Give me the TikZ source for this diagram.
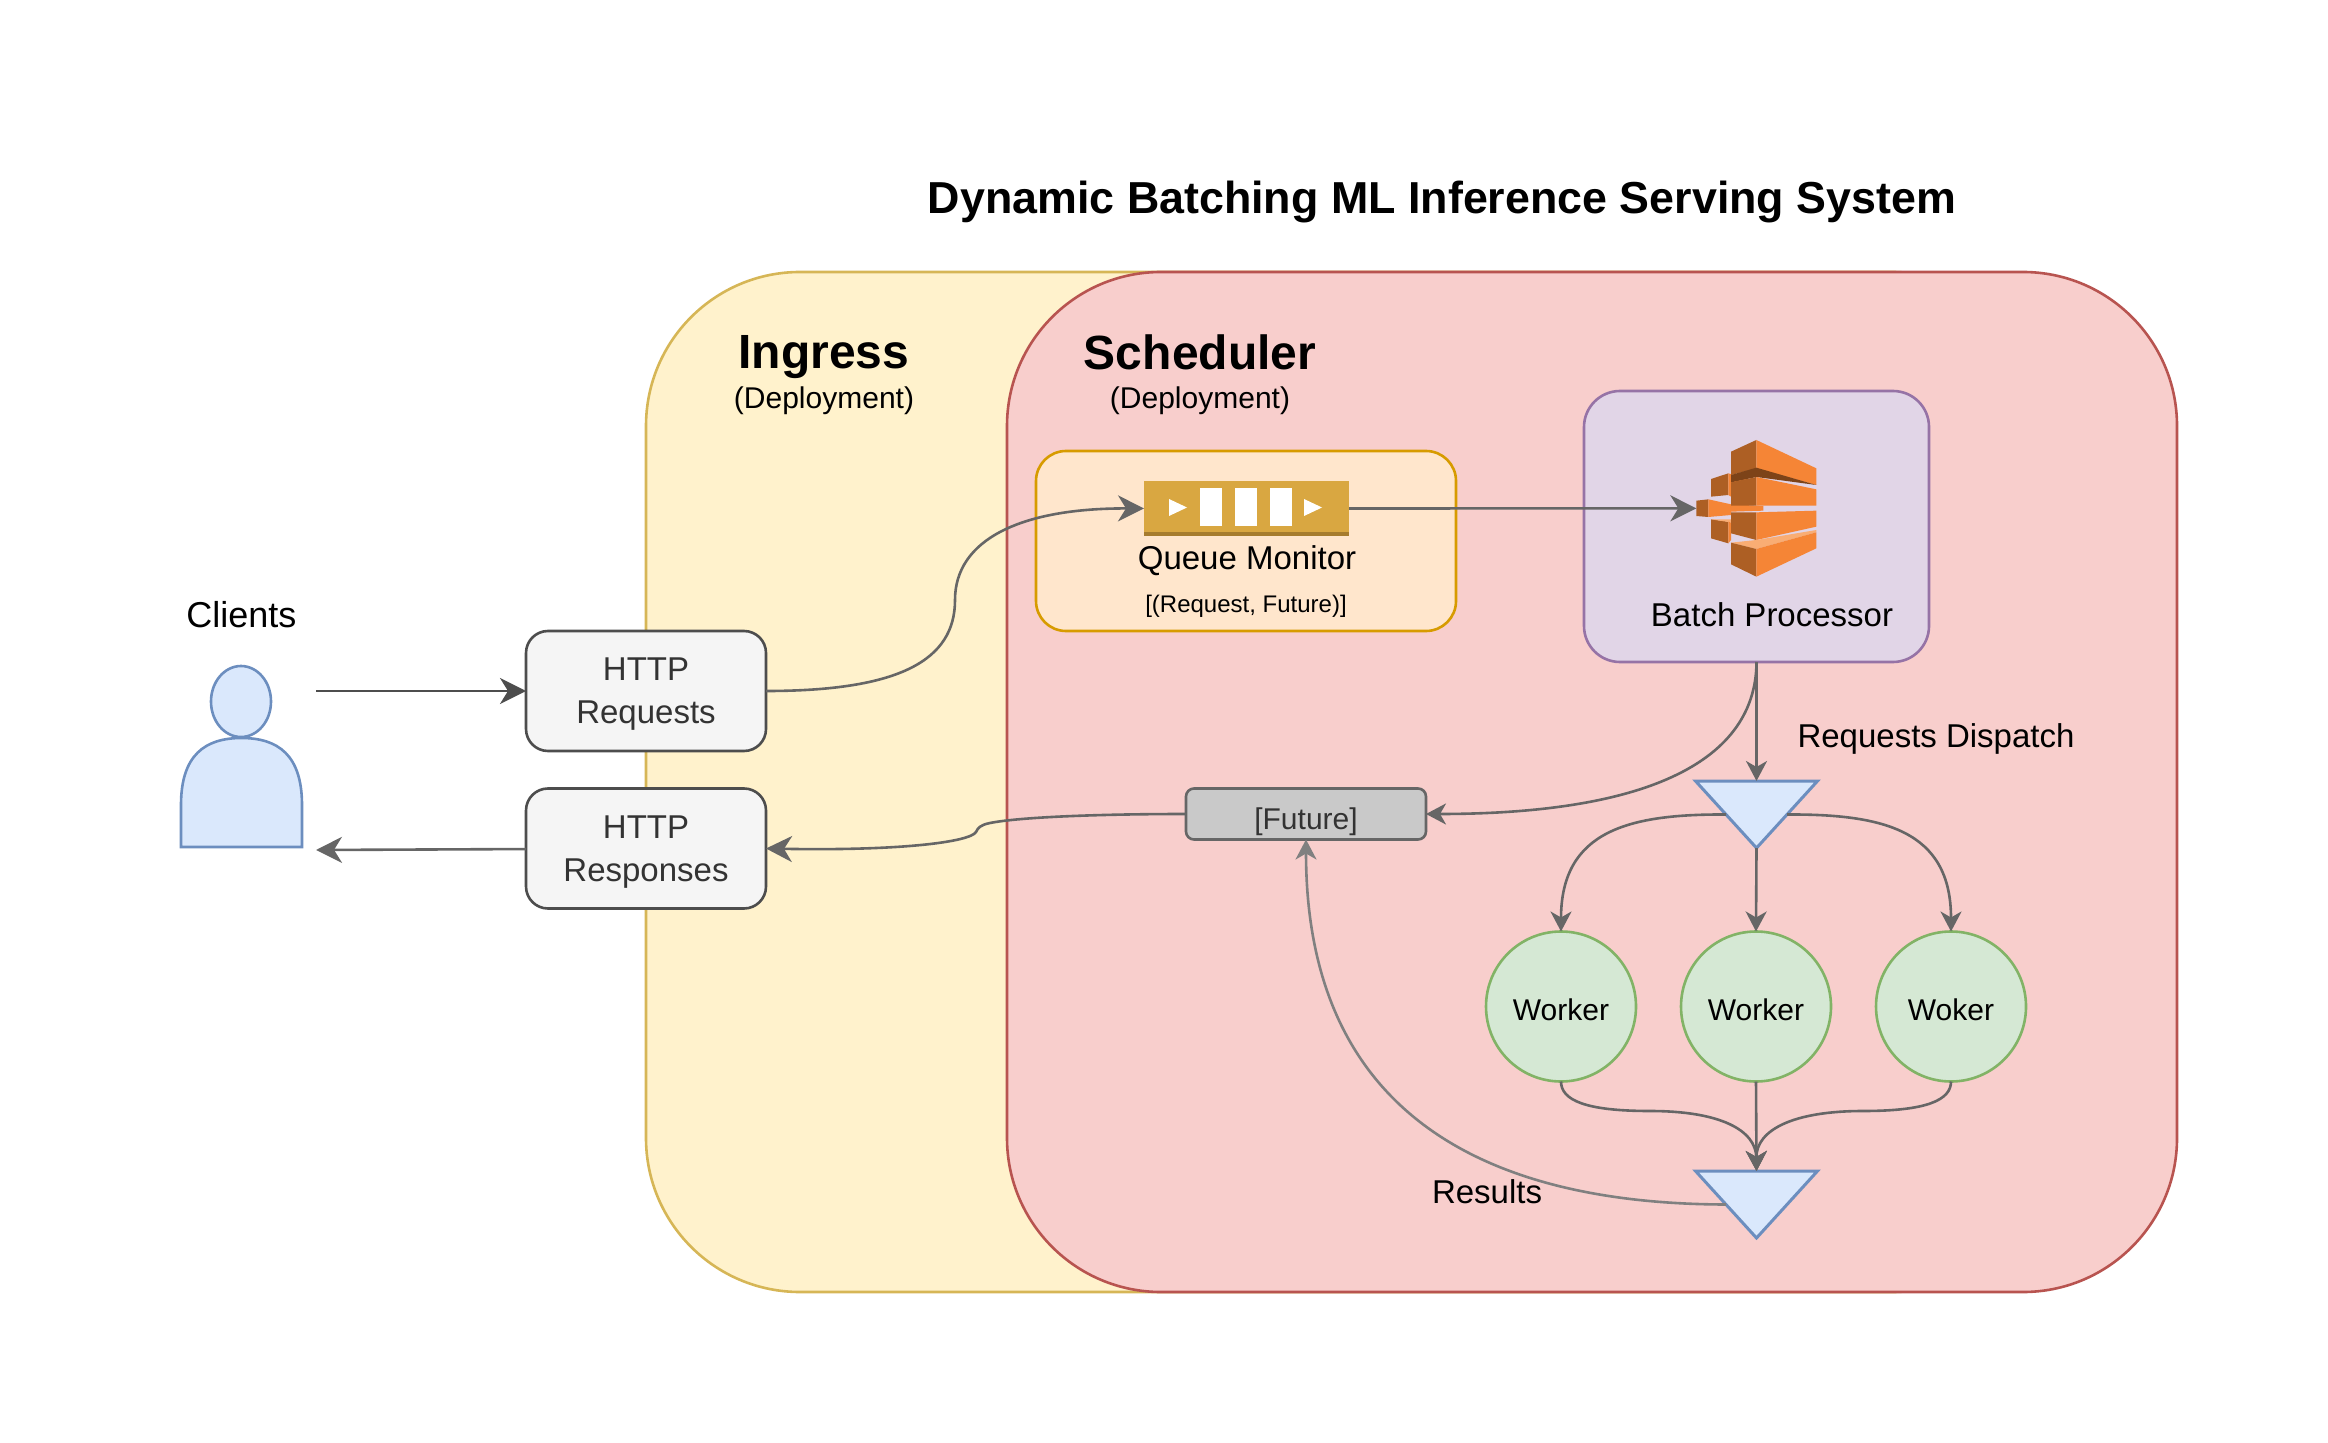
\documentclass[tikz,border=0pt]{standalone}
\usepackage{fontspec}
\usepackage{xcolor}
\usepackage{tikz}
\usetikzlibrary{shapes.geometric,arrows.meta,positioning}
\setmainfont{Liberation Sans}
\definecolor{ingressfill}{HTML}{FFF2CC}
\definecolor{ingressline}{HTML}{D6B656}
\definecolor{schedfill}{HTML}{F8CECC}
\definecolor{schedline}{HTML}{B85450}
\definecolor{queuefill}{HTML}{FFE6CC}
\definecolor{queueline}{HTML}{D79B00}
\definecolor{batchfill}{HTML}{E1D5E7}
\definecolor{batchline}{HTML}{9673A6}
\definecolor{bluefill}{HTML}{DAE8FC}
\definecolor{blueline}{HTML}{6C8EBF}
\definecolor{workerfill}{HTML}{D5E8D4}
\definecolor{workerline}{HTML}{82B366}
\definecolor{httpfill}{HTML}{F5F5F5}
\definecolor{httpline}{HTML}{4D4D4D}
\definecolor{futurefill}{HTML}{C9C9C9}
\definecolor{flowline}{HTML}{666666}
\definecolor{resultline}{HTML}{808080}
\definecolor{iconbase}{HTML}{D9A741}
\definecolor{iconedge}{HTML}{A67C2E}
\definecolor{kinesis}{HTML}{F58536}
\definecolor{kinesisdark}{HTML}{AD5F24}
\definecolor{kinesisdeep}{HTML}{7D4318}
\definecolor{kinesislight}{HTML}{F9AD74}

\begin{document}
\begin{tikzpicture}[x=0.5pt, y=-0.5pt]
    \tikzstyle{label} = [inner sep=0pt, font=\fontsize{16.5}{21.5}\selectfont, align=center, text depth=0pt]
    \tikzstyle{smalllabel} = [label, font=\fontsize{15}{18}\selectfont]
    \tikzstyle{heading} = [inner sep=0pt, font=\fontsize{24}{28}\selectfont\bfseries, text depth=0pt]
    \tikzstyle{zone} = [rectangle, rounded corners=77pt, inner sep=0pt, outer sep=0pt, line width=1.3pt]
    \tikzstyle{panel} = [rectangle, inner sep=0pt, outer sep=0pt, line width=1.3pt]
    \tikzstyle{http} = [panel, rounded corners=11pt, minimum width=120pt, minimum height=60pt, draw=httpline, fill=httpfill, text=black!80, label]
    \tikzstyle{worker} = [circle, minimum size=75pt, inner sep=0pt, outer sep=0pt, line width=1.3pt, draw=workerline, fill=workerfill, smalllabel, text height=14pt]
    \tikzstyle{merge} = [isosceles triangle, isosceles triangle stretches, shape border rotate=-90, minimum width=61pt, minimum height=33.5pt, inner sep=0pt, outer sep=0pt, line width=1.5pt, draw=blueline, fill=bluefill]
    \tikzstyle{arrow} = [line width=1.3pt, flowline, -{Stealth[length=13pt, width=13pt, inset=4pt]}]
    \tikzstyle{thinarrow} = [line width=1.3pt, flowline, -{Stealth[length=10pt, width=10.5pt, inset=3pt]}]

    \useasboundingbox (0,0) rectangle (2328,1443);

    \node (title) [heading, font=\fontsize{22.4}{26}\selectfont\bfseries] at (1442,197) {Dynamic Batching ML Inference Serving System};

    \node (ingress) [zone, minimum width=700pt, minimum height=510pt, anchor=north west, draw=ingressline, fill=ingressfill] at (646,272) {};
    \node (scheduler) [zone, minimum width=585pt, minimum height=510pt, anchor=north west, draw=schedline, fill=schedfill] at (1007,272) {};

    \node (ingresstitle) [heading] at (824,352) {Ingress};
    \node (ingresskind) [smalllabel] at (824,398) {(Deployment)};
    \node (schedtitle) [heading] at (1200,352) {Scheduler};
    \node (schedkind) [smalllabel] at (1200,398) {(Deployment)};

    \node (queuebox) [panel, rounded corners=15pt, minimum width=210pt, minimum height=90pt, draw=queueline, fill=queuefill] at (1246,541) {};
    \node (queue) [panel, minimum width=102.5pt, minimum height=27.5pt, fill=iconbase] at (1246.5,508.5) {};
    \fill [iconedge] (queue.south west) rectangle ([yshift=2pt]queue.south east);
    \foreach \barx in {1200,1235,1270}
        \fill [white] (\barx,488) rectangle ++(22,38);
    \foreach \tipx in {1169,1304}
        \fill [white] (\tipx,499) -- (\tipx+18,507.5) -- (\tipx,516) -- cycle;
    \node (queuename) [label] at (1247,558) {Queue Monitor};
    \node (queueitems) [label, font=\fontsize{12}{14}\selectfont] at (1246,604) {[(Request, Future)]};

    \node (batch) [panel, rounded corners=18pt, minimum width=172.5pt, minimum height=135.5pt, draw=batchline, fill=batchfill] at (1756.5,526.5) {};
    \begin{scope}[shift={(1560,380)}, scale=1/3]
        \fill [kinesisdark] (453,297) -- (505,280) -- (505,345) -- (453,350) -- cycle;
        \fill [kinesis] (505,280) -- (565,297) -- (513,310) -- (513,350) -- (505,345) -- cycle;
        \fill [kinesisdark] (453,418) -- (505,425) -- (505,490) -- (453,475) -- cycle;
        \fill [kinesislight] (453,418) -- (513,418) -- (513,428) -- (505,426) -- cycle;
        \fill [kinesis] (505,425) -- (513,428) -- (513,480) -- (505,490) -- cycle;
        \fill [kinesisdark] (409,362) -- (445,358) -- (445,411) -- (409,408) -- cycle;
        \fill [kinesis] (445,358) -- (513,373) -- (610,378) -- (610,392) -- (513,395) -- (513,405) -- (445,411) -- cycle;
        \fill [kinesisdark] (513,215) -- (589,180) -- (589,265) -- (513,285) -- cycle;
        \fill [kinesis] (589,180) -- (769,265) -- (769,315) -- (589,265) -- cycle;
        \fill [kinesisdeep] (513,285) -- (589,263) -- (769,315) -- (589,291) -- (513,307) -- cycle;
        \fill [kinesisdark] (513,307) -- (589,291) -- (589,377) -- (513,377) -- cycle;
        \fill [kinesis] (589,291) -- (769,328) -- (769,377) -- (589,377) -- cycle;
        \fill [kinesisdark] (513,397) -- (589,397) -- (589,480) -- (513,460) -- cycle;
        \fill [kinesis] (589,397) -- (769,392) -- (769,440) -- (589,480) -- cycle;
        \fill [kinesislight] (513,488) -- (589,480) -- (769,450) -- (769,457) -- (589,507) -- cycle;
        \fill [kinesisdark] (513,488) -- (589,507) -- (589,590) -- (513,553) -- cycle;
        \fill [kinesis] (589,507) -- (769,457) -- (769,505) -- (589,590) -- cycle;
        \coordinate (kinesisport) at (409,385);
    \end{scope}
    \node (batchname) [label] at (1772,615) {Batch Processor};

    \node (clientsname) [label, font=\fontsize{18}{21}\selectfont] at (241.5,614) {Clients};
    \fill [bluefill, draw=blueline, line width=1.3pt] (181,847) -- (181,805) .. controls (181,755) and (205,738) .. (241.5,738) .. controls (278,738) and (302,755) .. (302,805) -- (302,847) -- cycle;
    \node (clientshead) [ellipse, minimum width=30pt, minimum height=35.5pt, inner sep=0pt, line width=1.3pt, draw=blueline, fill=bluefill] at (241,701.5) {};
    \coordinate (clientsout) at (316,691);
    \coordinate (clientsin) at (316,850);

    \node (requests) [http] at (646,691) {HTTP\\Requests};
    \node (responses) [http, below=18.75pt of requests] {HTTP\\Responses};
    \node (future) [panel, rounded corners=4pt, minimum width=120pt, minimum height=25.5pt, draw=flowline, fill=futurefill, text=black!80, label, font=\fontsize{15}{18}\selectfont, text height=15pt] at (1306,814) {[Future]};

    \node (dispatch) [merge, anchor=lower side] at (1756.5,781) {};
    \node (dispatchname) [label] at (1936,736) {Requests Dispatch};
    \node (workerb) [worker] at (1756,1006.5) {Worker};
    \node (workera) [worker, left=22.5pt of workerb] {Worker};
    \node (workerc) [worker, right=22.5pt of workerb] {Woker};
    \node (collect) [merge, anchor=lower side] at (1756.5,1171) {};
    \node (resultsname) [label] at (1487,1192) {Results};

    \draw [arrow, httpline] (clientsout) -- (requests);
    \draw [arrow] (responses) -- (clientsin);
    \draw [arrow] (requests.east) .. controls (900,691) and (955,660) .. (955,600) .. controls (955,540) and (1020,508) .. (queue.west);
    \draw [arrow] (queue.east) -- (kinesisport);
    \draw [thinarrow] (batch.south) -- (dispatch.lower side);
    \draw [thinarrow] (batch.south) .. controls (1756,760) and (1650,814) .. (future.east);
    \draw [thinarrow] (dispatch.right side) .. controls (1630,814) and (1561,830) .. (workera.north);
    \draw [thinarrow] (dispatch.apex) -- (workerb.north);
    \draw [thinarrow] (dispatch.left side) .. controls (1883,814) and (1951,830) .. (workerc.north);
    \draw [thinarrow] (workera.south) .. controls (1561,1100) and (1585,1111) .. (1650,1111) .. controls (1720,1111) and (1756,1130) .. (collect.lower side);
    \draw [thinarrow] (workerb.south) -- (collect.lower side);
    \draw [thinarrow] (workerc.south) .. controls (1951,1100) and (1927,1111) .. (1863,1111) .. controls (1793,1111) and (1756,1130) .. (collect.lower side);
    \draw [thinarrow, resultline] (collect.right side) .. controls (1480,1204) and (1306,1110) .. (future.south);
    \draw [arrow] (future.west) .. controls (1100,814) and (1020,817) .. (990,823) .. controls (980,825) and (978,828) .. (976,832) .. controls (970,842) and (900,851) .. (responses.east);
\end{tikzpicture}
\end{document}
